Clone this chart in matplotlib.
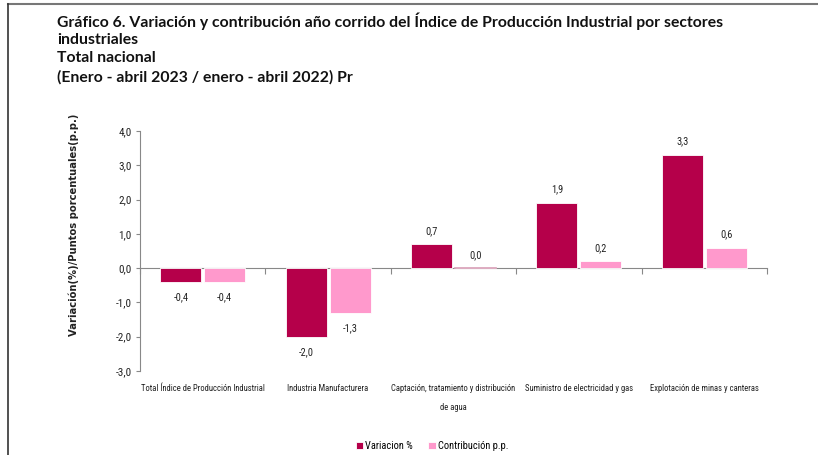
import matplotlib
matplotlib.use("Agg")
import matplotlib.pyplot as plt
from matplotlib import font_manager as fm
import numpy as np

categories = ["Total Índice de Producción Industrial", "Industria Manufacturera",
              "Captación, tratamiento y distribución\nde agua",
              "Suministro de electricidad y gas", "Explotación de minas y canteras"]
variacion = [-0.4, -2.0, 0.7, 1.9, 3.3]
contribucion = [-0.4, -1.3, 0.0, 0.2, 0.6]
series_names = ["Variacion %", "Contribución p.p."]
yticks = [-3.0, -2.0, -1.0, 0.0, 1.0, 2.0, 3.0, 4.0]

dark = "#B5004A"
pink = "#FF99CC"


def pick_condensed(weight_bold=False):
    cands = []
    for f in fm.fontManager.ttflist:
        name = f.name.lower()
        st = f.stretch
        cond = ("narrow" in name or "condensed" in name or
                (isinstance(st, str) and "condensed" in st) or
                (isinstance(st, (int, float)) and st < 500))
        if not cond:
            continue
        if f.style != "normal":
            continue
        w = f.weight if isinstance(f.weight, (int, float)) else {"bold": 700, "normal": 400, "regular": 400}.get(str(f.weight).lower(), 400)
        if weight_bold and w < 600:
            continue
        if not weight_bold and (w >= 600 or w < 350):
            continue
        if "liberation" in name: pri = 0
        elif "open sans" in name: pri = 1
        elif "roboto" in name: pri = 2
        elif "noto sans" in name and "cjk" not in name: pri = 3
        elif "dejavu" in name: pri = 4
        else: pri = 5
        cands.append((pri, f.fname))
    if cands:
        cands.sort()
        return fm.FontProperties(fname=cands[0][1])
    return None


cond = pick_condensed()
if cond is None:
    cond = fm.FontProperties(family=["Lato", "DejaVu Sans"])

def fp(size, base=cond):
    p = base.copy()
    p.set_size(size)
    return p

fig = plt.figure(figsize=(8.18, 4.55), dpi=100)
ax = fig.add_axes([140/818, 1-371/455, (767-140)/818, (371-131)/455])

x = np.arange(len(categories))
w = 0.327
off = 0.175
b1 = ax.bar(x - off, variacion, w, color=dark, edgecolor="white", linewidth=0.6, label=series_names[0])
b2 = ax.bar(x + off, contribucion, w, color=pink, edgecolor="white", linewidth=0.6, label=series_names[1])
for xi, v in zip(x, contribucion):
    if v == 0:
        ax.plot([xi + off - w/2, xi + off + w/2], [0, 0], color="#d9a0b8", lw=1.2, zorder=3)

def fmt(v):
    return f"{v:.1f}".replace(".", ",")

for bars, vals in ((b1, variacion), (b2, contribucion)):
    for rect, v in zip(bars, vals):
        cx = rect.get_x() + rect.get_width()/2
        if v >= 0:
            ax.annotate(fmt(v), (cx, v), xytext=(0, 6), textcoords="offset points",
                        ha="center", va="bottom", fontproperties=fp(7.5), color="#222222")
        else:
            ax.annotate(fmt(v), (cx, v), xytext=(0, -7.5), textcoords="offset points",
                        ha="center", va="top", fontproperties=fp(7.5), color="#222222")

ax.set_xlim(-0.5, len(categories) - 0.5)
ax.set_ylim(-3.0, 4.0)
ax.set_yticks(yticks)
ax.set_yticklabels([fmt(t) for t in yticks], fontproperties=fp(8), color="#222222")
ax.tick_params(axis="y", length=3, color="#888888", direction="out", pad=3)
ax.set_xticks(x)
ax.set_xticklabels(categories, fontproperties=fp(6.2), color="#222222", linespacing=2.4)
ax.tick_params(axis="x", length=0, pad=9.5)
for s in ("top", "right", "bottom"):
    ax.spines[s].set_visible(False)
ax.spines["left"].set_color("#888888")
ax.spines["left"].set_linewidth(0.8)

sec = ax.secondary_xaxis(3/7)
sec.set_xticks(np.arange(-0.5, len(categories), 1.0))
sec.set_xticklabels([])
sec.tick_params(axis="x", length=4, color="#888888", direction="out")
sec.spines["bottom"].set_color("#888888")
sec.spines["bottom"].set_linewidth(0.8)

ax.set_ylabel("Variación(%)/Puntos porcentuales(p.p.)", fontsize=7.2, fontweight="bold",
              family=["DejaVu Sans"], color="#222222")
ax.yaxis.set_label_coords((79-140)/(767-140), (371-225)/240)

leg = fig.legend(handles=[b1, b2], labels=series_names, loc="center",
                 bbox_to_anchor=(432/818, 1-446/455), ncol=2, frameon=False,
                 prop=fp(7.5), handlelength=0.7, handleheight=0.7,
                 handletextpad=0.2, columnspacing=1.5)

title_lines = [
    (21, "Gráfico 6. Variación y contribución año corrido del Índice de Producción Industrial por sectores"),
    (40, "industriales"),
    (58, "Total nacional"),
    (77, "(Enero - abril 2023 / enero - abril 2022) Pr"),
]
for yy, t in title_lines:
    fig.text(57/818, 1-yy/455, t, fontsize=11.3, fontweight="bold", family=["Lato", "DejaVu Sans"],
             ha="left", va="center", color="#111111")

fig.add_artist(plt.Line2D([8/818, 1], [1-4/455, 1-4/455], color="#777777", lw=1.5))
fig.add_artist(plt.Line2D([8/818, 8/818], [0, 1-4/455], color="#333333", lw=1.2))

fig.savefig("out.png", dpi=100)
